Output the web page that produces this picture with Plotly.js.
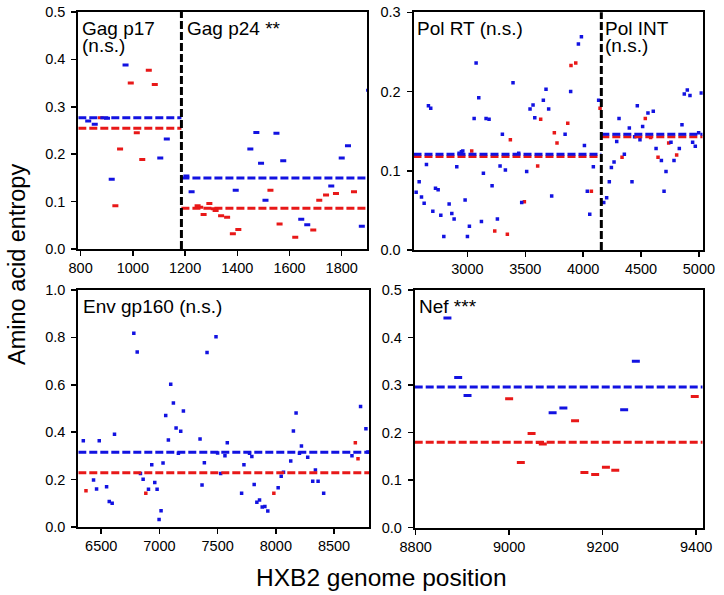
<!DOCTYPE html>
<html>
<head>
<meta charset="utf-8">
<script src="https://cdn.plot.ly/plotly-3.0.1.min.js"></script>
<style>html,body{margin:0;padding:0;background:#fff;}#chart{width:724px;height:595px;}</style>
</head>
<body>
<div id="chart"></div>
<script>
// ---------- Gag (p17 | p24) ----------
const gagBlueX = [829, 854, 901, 919, 972, 1105, 1130,
  1205, 1225, 1394, 1450, 1473, 1491, 1508, 1550, 1576, 1645, 1668, 1760, 1800, 1824, 1877, 1905];
const gagBlueY = [0.270, 0.263, 0.276, 0.147, 0.388, 0.192, 0.232,
  0.154, 0.121, 0.124, 0.211, 0.246, 0.181, 0.103, 0.244, 0.186, 0.063, 0.051, 0.133, 0.192, 0.218, 0.048, 0.335];
const gagRedX = [877, 933, 951, 992, 1015, 1036, 1061, 1084,
  1248, 1258, 1271, 1293, 1310, 1317, 1338, 1361, 1383, 1404, 1527, 1562, 1622, 1691, 1714, 1740, 1778, 1847];
const gagRedY = [0.277, 0.091, 0.211, 0.350, 0.245, 0.189, 0.377, 0.347,
  0.091, 0.088, 0.073, 0.096, 0.085, 0.081, 0.070, 0.067, 0.032, 0.041, 0.124, 0.053, 0.025, 0.040, 0.103, 0.114, 0.117, 0.121];
const gagBounds = [791, 1186, 1898];
const gagBlueMean = [0.277, 0.150];
const gagRedMean = [0.255, 0.086];

// ---------- Pol (RT | INT) ----------
const polBlueX = [2557, 2583, 2603, 2626, 2646, 2663, 2683, 2701, 2724, 2747, 2770, 2796, 2842, 2865, 2885, 2908,
  2928, 2948, 2960, 2980, 3000, 3017, 3058, 3075, 3098, 3121, 3138, 3161, 3187, 3213, 3259, 3282, 3302, 3328,
  3394, 3443, 3469, 3512, 3541, 3567, 3582, 3656, 3679, 3702, 3728, 3844, 3892, 3959, 3985, 4011, 4036, 4057,
  4088, 4134,
  4178, 4203, 4226, 4244, 4267, 4290, 4310, 4356, 4399, 4422, 4445, 4468, 4491, 4514, 4560, 4606, 4630, 4676,
  4699, 4716, 4759, 4785, 4831, 4854, 4874, 4900, 4923, 4946, 4969, 4998, 5021];
const polBlueY = [0.073, 0.086, 0.067, 0.059, 0.108, 0.182, 0.179, 0.049, 0.078, 0.076, 0.044, 0.017, 0.058, 0.046, 0.039, 0.105,
  0.122, 0.124, 0.125, 0.063, 0.017, 0.030, 0.166, 0.236, 0.192, 0.036, 0.097, 0.166, 0.165, 0.081, 0.039, 0.106, 0.146, 0.101,
  0.211, 0.122, 0.060, 0.099, 0.178, 0.183, 0.167, 0.189, 0.203, 0.178, 0.068, 0.146, 0.200, 0.260, 0.269, 0.132, 0.074, 0.045,
  0.105, 0.189,
  0.060, 0.066, 0.086, 0.104, 0.111, 0.137, 0.166, 0.121, 0.154, 0.086, 0.143, 0.182, 0.139, 0.156, 0.173, 0.175, 0.128, 0.113,
  0.074, 0.099, 0.136, 0.113, 0.128, 0.158, 0.197, 0.202, 0.195, 0.136, 0.131, 0.148, 0.198];
const polRedX = [3037, 3236, 3345, 3371, 3492, 3607, 3633, 3751, 3774, 3867, 3895, 3936, 4071, 4146,
  4336, 4537, 4583, 4647, 4739, 4808];
const polRedY = [0.125, 0.024, 0.020, 0.139, 0.061, 0.106, 0.165, 0.148, 0.135, 0.160, 0.233, 0.236, 0.074, 0.179,
  0.117, 0.166, 0.142, 0.117, 0.135, 0.120];
const polBounds = [2534, 4157, 5033];
const polBlueMean = [0.121, 0.146];
const polRedMean = [0.118, 0.143];

// ---------- Env gp160 ----------
const envBlueX = [6346, 6434, 6460, 6483, 6546, 6569, 6594, 6614, 6780, 6809, 6837, 6860, 6906, 6934, 6960, 6980, 6997,
  7014, 7031, 7054, 7077, 7097, 7120, 7143, 7163, 7183, 7206, 7349, 7366, 7386, 7409, 7486, 7500, 7526, 7563, 7583,
  7706, 7726, 7774, 7794, 7814, 7837, 7860, 7883, 7906, 7931, 8020, 8046, 8066, 8128, 8151, 8174, 8203, 8220, 8274,
  8317, 8340, 8363, 8411, 8654, 8728, 8774, 8791];
const envBlueY = [0.364, 0.198, 0.160, 0.364, 0.170, 0.108, 0.100, 0.391, 0.817, 0.738, 0.226, 0.201, 0.159, 0.263, 0.188, 0.159, 0.032,
  0.069, 0.270, 0.470, 0.367, 0.602, 0.523, 0.418, 0.311, 0.404, 0.489, 0.371, 0.177, 0.271, 0.736, 0.803, 0.312, 0.226, 0.301, 0.356,
  0.142, 0.263, 0.311, 0.297, 0.179, 0.104, 0.114, 0.084, 0.087, 0.068, 0.166, 0.214, 0.231, 0.278, 0.405, 0.481, 0.311, 0.342, 0.294,
  0.193, 0.241, 0.193, 0.142, 0.301, 0.508, 0.415, 0.316];
const envRedX = [6369, 6883, 7983, 8683, 8706];
const envRedY = [0.153, 0.142, 0.142, 0.356, 0.288];
const envBounds = [6303, 8803];
const envBlueMean = [0.315];
const envRedMean = [0.229];

// ---------- Nef ----------
const nefBlueX = [8868, 8891, 8911, 9093, 9116, 9246, 9271];
const nefBlueY = [0.441, 0.316, 0.278, 0.242, 0.252, 0.248, 0.350];
const nefRedX = [9000, 9025, 9048, 9066, 9072, 9141, 9161, 9184, 9207, 9227, 9397];
const nefRedY = [0.271, 0.137, 0.198, 0.179, 0.176, 0.225, 0.116, 0.112, 0.127, 0.121, 0.276];
const nefBounds = [8798, 9414];
const nefBlueMean = [0.296];
const nefRedMean = [0.180];

// ---------- ticks ----------
const gagTicks = [800, 1000, 1200, 1400, 1600, 1800];
const polTicks = [3000, 3500, 4000, 4500, 5000];
const envTicks = [6500, 7000, 7500, 8000, 8500];
const nefTicks = [8800, 9000, 9200, 9400];
const yTicksHalf = [0, 0.1, 0.2, 0.3, 0.4, 0.5];
const yTicksPol = [0, 0.1, 0.2, 0.3];
const yTicksEnv = [0, 0.2, 0.4, 0.6, 0.8, 1.0];

const BLUE = 'rgb(18,18,225)';
const RED = 'rgb(232,24,24)';
const FONT = 'Liberation Sans, Arial, sans-serif';

const traces = [];
function pts(x, y, color, xa, ya, kind, size) {
  if (kind === 'dash') {
    traces.push({x: x, y: y, xaxis: xa, yaxis: ya, type: 'scatter', mode: 'markers', hoverinfo: 'skip',
      marker: {symbol: 'line-ew', size: size, color: color, line: {color: color, width: 3}}});
  } else {
    traces.push({x: x, y: y, xaxis: xa, yaxis: ya, type: 'scatter', mode: 'markers', hoverinfo: 'skip',
      marker: {symbol: 'square', size: size, color: color, line: {width: 0}}});
  }
}
function means(bounds, vals, color, xa, ya) {
  for (let i = 0; i < vals.length; i++) {
    traces.push({x: [bounds[i], bounds[i + 1]], y: [vals[i], vals[i]], xaxis: xa, yaxis: ya, type: 'scatter',
      mode: 'lines', hoverinfo: 'skip', line: {color: color, width: 3, dash: '8px,3px'}});
  }
}

pts(gagRedX, gagRedY, RED, 'x', 'y', 'dash', 4.3);
pts(gagBlueX, gagBlueY, BLUE, 'x', 'y', 'dash', 4.3);
means(gagBounds, gagRedMean, RED, 'x', 'y');
means(gagBounds, gagBlueMean, BLUE, 'x', 'y');

pts(polRedX, polRedY, RED, 'x2', 'y2', 'sq', 3.5);
pts(polBlueX, polBlueY, BLUE, 'x2', 'y2', 'sq', 3.5);
means(polBounds, polRedMean, RED, 'x2', 'y2');
means(polBounds, polBlueMean, BLUE, 'x2', 'y2');

pts(envRedX, envRedY, RED, 'x3', 'y3', 'sq', 3.5);
pts(envBlueX, envBlueY, BLUE, 'x3', 'y3', 'sq', 3.5);
means(envBounds, envRedMean, RED, 'x3', 'y3');
means(envBounds, envBlueMean, BLUE, 'x3', 'y3');

pts(nefRedX, nefRedY, RED, 'x4', 'y4', 'dash', 5.7);
pts(nefBlueX, nefBlueY, BLUE, 'x4', 'y4', 'dash', 5.7);
means(nefBounds, nefRedMean, RED, 'x4', 'y4');
means(nefBounds, nefBlueMean, BLUE, 'x4', 'y4');

function ax(extra) {
  return Object.assign({
    showline: true, linewidth: 2, linecolor: 'black', mirror: true,
    ticks: 'outside', ticklen: 5, tickwidth: 1.5, tickcolor: 'black',
    showgrid: false, zeroline: false, fixedrange: true,
    tickfont: {family: FONT, size: 14.5, color: 'black'}
  }, extra);
}

const W = 724, H = 595;
const dx = (a, b) => [a / W, b / W];
const dy = (top, bot) => [1 - bot / H, 1 - top / H];

const layout = {
  width: W, height: H,
  margin: {l: 0, r: 0, t: 0, b: 0},
  paper_bgcolor: 'white', plot_bgcolor: 'white',
  showlegend: false,
  font: {family: FONT, color: 'black'},
  xaxis: ax({domain: dx(78.3, 367.3), range: [gagBounds[0], gagBounds[2]], tickvals: gagTicks, anchor: 'y'}),
  yaxis: ax({domain: dy(12, 249), range: [0, 0.5], tickvals: yTicksHalf, tickformat: '.1f', anchor: 'x', ticklabelstandoff: 3}),
  xaxis2: ax({domain: dx(413.5, 702.7), range: [polBounds[0], polBounds[2]], tickvals: polTicks, anchor: 'y2'}),
  yaxis2: ax({domain: dy(12.3, 250), range: [0, 0.3], tickvals: yTicksPol, tickformat: '.1f', anchor: 'x2', ticklabelstandoff: 3}),
  xaxis3: ax({domain: dx(78.3, 369.3), range: envBounds, tickvals: envTicks, anchor: 'y3'}),
  yaxis3: ax({domain: dy(290, 527), range: [0, 1.0], tickvals: yTicksEnv, tickformat: '.1f', anchor: 'x3', ticklabelstandoff: 3}),
  xaxis4: ax({domain: dx(414.7, 702.7), range: nefBounds, tickvals: nefTicks, anchor: 'y4'}),
  yaxis4: ax({domain: dy(290, 527.7), range: [0, 0.5], tickvals: yTicksHalf, tickformat: '.1f', anchor: 'x4', ticklabelstandoff: 3}),
  shapes: [
    {type: 'line', xref: 'x', yref: 'y domain', x0: gagBounds[1], x1: gagBounds[1], y0: 0, y1: 1,
      line: {color: 'black', width: 3, dash: '8px,3px'}},
    {type: 'line', xref: 'x2', yref: 'y2 domain', x0: polBounds[1], x1: polBounds[1], y0: 0, y1: 1,
      line: {color: 'black', width: 3, dash: '8px,3px'}}
  ],
  annotations: []
};

function lab(text, px, py, size) {
  layout.annotations.push({text: text, xref: 'paper', yref: 'paper', x: px / W, y: 1 - py / H,
    xanchor: 'left', yanchor: 'top', showarrow: false, font: {family: FONT, size: size || 19, color: 'black'}});
}
lab('Gag p17', 80, 16);
lab('(n.s.)', 80, 33);
lab('Gag p24 **', 185, 16);
lab('Pol RT (n.s.)', 415, 16);
lab('Pol INT', 603, 16);
lab('(n.s.)', 603, 33);
lab('Env gp160 (n.s.)', 81, 294);
lab('Nef ***', 417, 294);

layout.annotations.push({text: 'Amino acid entropy', xref: 'paper', yref: 'paper', x: 17 / W, y: 1 - 265 / H,
  xanchor: 'center', yanchor: 'middle', textangle: -90, showarrow: false,
  font: {family: FONT, size: 23.5, color: 'black'}});
layout.annotations.push({text: 'HXB2 genome position', xref: 'paper', yref: 'paper', x: 381 / W, y: 1 - 577 / H,
  xanchor: 'center', yanchor: 'middle', showarrow: false,
  font: {family: FONT, size: 24.5, color: 'black'}});

Plotly.newPlot('chart', traces, layout, {staticPlot: true, displayModeBar: false});
</script>
</body>
</html>
